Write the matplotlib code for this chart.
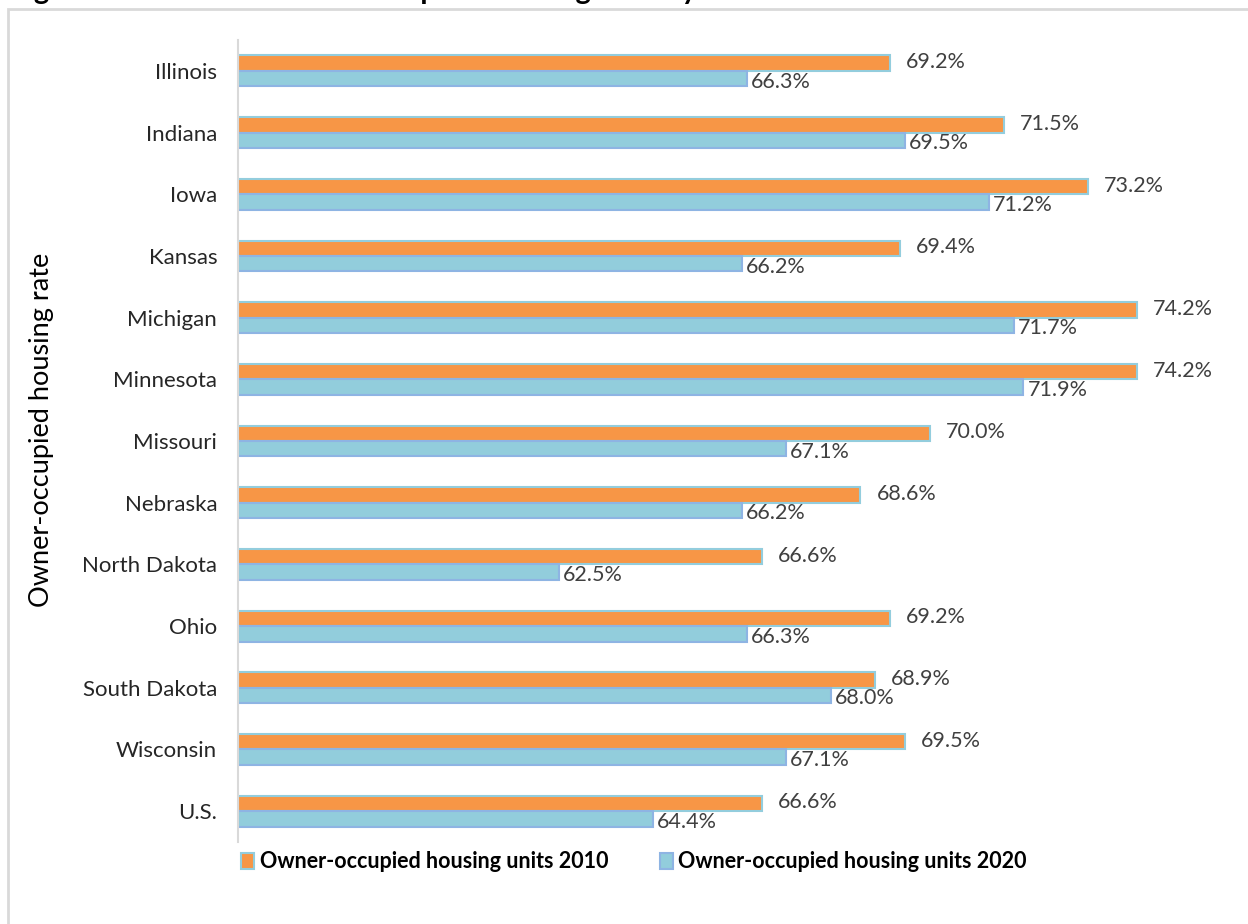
import numpy as np
import matplotlib
matplotlib.use("Agg")
import matplotlib.pyplot as plt
from matplotlib.patches import Rectangle

plt.rcParams['font.family'] = ['Lato', 'DejaVu Sans']

states = ['Illinois', 'Indiana', 'Iowa', 'Kansas', 'Michigan', 'Minnesota',
          'Missouri', 'Nebraska', 'North Dakota', 'Ohio', 'South Dakota',
          'Wisconsin', 'U.S.']
rate_2010 = [69.2, 71.5, 73.2, 69.4, 74.2, 74.2, 70.0, 68.6, 66.6, 69.2, 68.9, 69.5, 66.6]
rate_2020 = [66.3, 69.5, 71.2, 66.2, 71.7, 71.9, 67.1, 66.2, 62.5, 66.3, 68.0, 67.1, 64.4]

W, H = 1248, 924
fig = plt.figure(figsize=(W / 100, H / 100), dpi=100)
fig.patch.set_facecolor('white')

# grey chart frame (runs off the right and bottom edges)
fig.patches.append(Rectangle((8 / W, -0.1), 1.2, (H - 9) / H + 0.1,
                             transform=fig.transFigure, fill=False,
                             edgecolor='#d9d9d9', linewidth=2))

# title, cut off at the top of the image (only descenders show)
fig.text(10 / W, (H + 1.5) / H, 'Figure 4: Midwest Owner-Occupied Housing Rate by State',
         fontsize=21, fontweight='bold', va='baseline', ha='left', color='black')

ax = fig.add_axes([238 / W, (H - 842) / H, (1226 - 238) / W, (842 - 40) / H])

y = np.arange(len(states))
h = 0.25
c_or, e_or = '#F79646', '#93CDDD'
c_bl, e_bl = '#92CDDC', '#8EB4E3'

b1 = ax.barh(y - h / 2, np.array(rate_2010) - 56, left=56, height=h, color=c_or,
             edgecolor=e_or, linewidth=1.5, label='Owner-occupied housing units 2010')
b2 = ax.barh(y + h / 2, np.array(rate_2020) - 56, left=56, height=h, color=c_bl,
             edgecolor=e_bl, linewidth=1.5, label='Owner-occupied housing units 2020')

for i in range(len(states)):
    ax.annotate(f'{rate_2010[i]:.1f}%', (rate_2010[i], y[i] - h / 2),
                xytext=(16, 1), textcoords='offset pixels', va='center', ha='left',
                fontsize=15.5, color='#404040')
    ax.annotate(f'{rate_2020[i]:.1f}%', (rate_2020[i], y[i] + h / 2),
                xytext=(4, -3), textcoords='offset pixels', va='center', ha='left',
                fontsize=15.5, color='#404040')

ax.set_xlim(56, 76)
ax.set_ylim(len(states) - 0.5, -0.5)
ax.set_yticks(y)
ax.set_yticklabels(states, fontsize=16, color='#262626')
ax.tick_params(axis='y', length=0, pad=15)
ax.set_xticks([])
for s in ['top', 'right', 'bottom']:
    ax.spines[s].set_visible(False)
ax.spines['left'].set_color('#d9d9d9')
ax.spines['left'].set_linewidth(1.5)
ax.patch.set_alpha(0)

fig.text(42 / W, (H - 430) / H, 'Owner-occupied housing rate', rotation=90,
         fontsize=19.5, va='center', ha='center', color='black')

fig.legend(handles=[b1, b2], loc='center', bbox_to_anchor=(634 / W, (H - 862) / H),
           ncol=2, frameon=False, handlelength=0.6, handleheight=0.8,
           handletextpad=0.25, columnspacing=2.4,
           prop={'size': 15.5, 'weight': 'bold'})

fig.savefig('out.png', dpi=100)
